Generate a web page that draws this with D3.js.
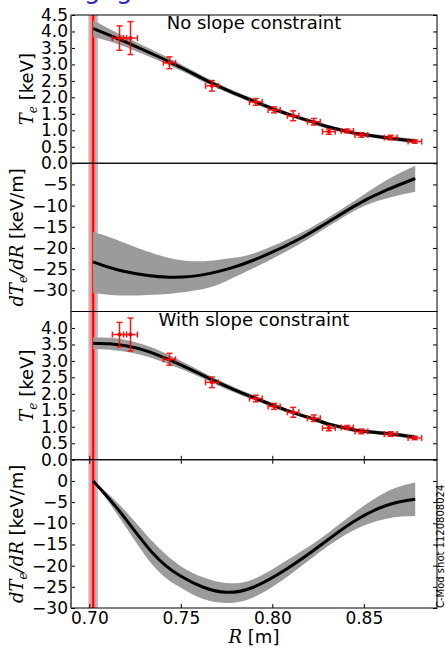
<!DOCTYPE html>
<html lang="en">
  <head>
    <meta charset="UTF-8" />
    <title>Te profile fits</title>
    <script src="https://cdn.jsdelivr.net/npm/d3@7"></script>
    <style>
      body { margin: 0; background: #fff; }
      text { font-family: "DejaVu Sans", sans-serif; }
      .math { font-family: "DejaVu Serif", serif; font-style: italic; }
    </style>
  </head>
  <body>
    <div id="chart"></div>
    <script>
      // measured Te points (same in both Te panels)
      const dataR = [0.7165, 0.7225, 0.7438, 0.767, 0.791, 0.801, 0.8114, 0.8227, 0.8309, 0.841, 0.8487, 0.8647, 0.8779];
      const dataTe = [3.80, 3.80, 3.05, 2.35, 1.86, 1.62, 1.44, 1.26, 0.96, 0.98, 0.86, 0.78, 0.66];
      const dataTeErr = [0.37, 0.5, 0.18, 0.16, 0.1, 0.09, 0.15, 0.1, 0.08, 0.06, 0.07, 0.07, 0.05];
      const dataRErr = [0.0039, 0.0038, 0.0033, 0.0035, 0.0035, 0.0033, 0.0031, 0.0035, 0.0035, 0.0033, 0.0035, 0.0035, 0.0037];

      // fit without slope constraint
      const fitR1 = [0.7021, 0.7165, 0.7300, 0.7438, 0.7550, 0.7670, 0.7790, 0.7910, 0.8010, 0.8114, 0.8227, 0.8309, 0.8410, 0.8487, 0.8647, 0.8781];
      const fitTe1 = [4.09, 3.76, 3.43, 3.08, 2.77, 2.43, 2.13, 1.86, 1.64, 1.44, 1.24, 1.10, 0.96, 0.88, 0.76, 0.67];
      const bandTe1 = [0.25, 0.16, 0.13, 0.11, 0.09, 0.08, 0.07, 0.07, 0.06, 0.06, 0.06, 0.06, 0.06, 0.06, 0.06, 0.07];

      const gradR1 = [0.7020, 0.7169, 0.7442, 0.7660, 0.7769, 0.7896, 0.8168, 0.8441, 0.8623, 0.8781];
      const grad1 = [-23.3, -25.3, -26.9, -26.0, -24.8, -22.9, -17.4, -10.3, -6.35, -3.6];
      const grad1Hi = [-16.2, -18.4, -22.4, -23.0, -22.4, -21.3, -16.2, -9.1, -4.0, -0.6];
      const grad1Lo = [-30.6, -31.2, -30.8, -29.3, -27.4, -24.8, -18.6, -11.4, -8.3, -6.75];

      // fit with slope constraint
      const fitR3 = [0.7021, 0.7110, 0.7206, 0.7320, 0.7438, 0.7550, 0.7670, 0.7790, 0.7910, 0.8010, 0.8114, 0.8227, 0.8309, 0.8410, 0.8487, 0.8647, 0.8781];
      const fitTe3 = [3.54, 3.52, 3.45, 3.29, 3.03, 2.75, 2.43, 2.13, 1.86, 1.64, 1.43, 1.23, 1.08, 0.95, 0.87, 0.78, 0.68];
      const bandTe3 = [0.18, 0.18, 0.18, 0.16, 0.14, 0.11, 0.09, 0.08, 0.07, 0.07, 0.06, 0.06, 0.06, 0.06, 0.06, 0.06, 0.07];

      const gradR3 = [0.7021, 0.7169, 0.735, 0.7496, 0.7623, 0.7750, 0.7896, 0.8078, 0.826, 0.8441, 0.8623, 0.8781];
      const grad3 = [0, -7.35, -17.2, -22.4, -25.1, -26.3, -25.1, -20.8, -15.3, -9.7, -5.8, -4.35];
      const grad3Hi = [0, -5.8, -14.5, -20.0, -22.75, -24.1, -23.2, -18.8, -13.7, -7.75, -2.6, -0.4];
      const grad3Lo = [0, -8.9, -20.0, -25.1, -27.9, -28.8, -27.5, -22.75, -16.8, -11.7, -8.9, -8.3];

      // separatrix position and its uncertainty
      const sepR = 0.7021, sepRedHalf = 0.0016, sepGrayHalf = 0.0026;

      const xTicks = [0.70, 0.75, 0.80, 0.85];
      const teTicks1 = [0, 0.5, 1, 1.5, 2, 2.5, 3, 3.5, 4, 4.5];
      const teTicks3 = [0, 0.5, 1, 1.5, 2, 2.5, 3, 3.5, 4];
      const gradTicks1 = [-30, -25, -20, -15, -10, -5];
      const gradTicks3 = [-30, -25, -20, -15, -10, -5, 0];

      const W = 445, H = 648;
      const margin = { left: 71, right: 8, top: 15 };
      const plotW = W - margin.left - margin.right;
      const panelH = 148.25;

      const svg = d3.select("#chart").append("svg").attr("width", W).attr("height", H);
      svg.append("rect").attr("width", W).attr("height", H).attr("fill", "#fff");

      // cut-off blue text above the figure
      svg.append("text").attr("x", 84).attr("y", -2).attr("font-size", 26).attr("fill", "#2b2bb5").text("g");
      svg.append("text").attr("x", 116).attr("y", -2).attr("font-size", 26).attr("fill", "#2b2bb5").text("g");

      const x = d3.scaleLinear().domain([0.69, 0.89]).range([0, plotW]);

      const panels = [
        { domain: [0, 4.5], ticks: teTicks1, fmt: d3.format(".1f"), kind: "te", R: fitR1, v: fitTe1, band: bandTe1, title: "No slope constraint", xt: [] , labX: 33 },
        { domain: [-35, 0], ticks: gradTicks1, fmt: d3.format("d"), kind: "grad", R: gradR1, v: grad1, hi: grad1Hi, lo: grad1Lo, xt: [], labX: 23 },
        { domain: [0, 4.5], ticks: teTicks3, fmt: d3.format(".1f"), kind: "te", R: fitR3, v: fitTe3, band: bandTe3, title: "With slope constraint", xt: ["bottom"], labX: 33 },
        { domain: [-30, 5], ticks: gradTicks3, fmt: d3.format("d"), kind: "grad", R: gradR3, v: grad3, hi: grad3Hi, lo: grad3Lo, xt: ["top", "bottom"], labX: 23 },
      ];

      panels.forEach((p, i) => {
        const top = margin.top + i * panelH;
        const y = d3.scaleLinear().domain(p.domain).range([panelH, 0]);
        const g = svg.append("g").attr("transform", `translate(${margin.left},${top})`);

        g.append("clipPath").attr("id", "clip" + i)
          .append("rect").attr("width", plotW).attr("height", panelH);
        const plot = g.append("g").attr("clip-path", `url(#clip${i})`);

        // separatrix bands
        plot.append("rect").attr("x", x(sepR - sepGrayHalf)).attr("width", x(sepR + sepGrayHalf) - x(sepR - sepGrayHalf))
          .attr("y", 0).attr("height", panelH).attr("fill", "#bdbdbd");
        plot.append("rect").attr("x", x(sepR - sepRedHalf)).attr("width", x(sepR + sepRedHalf) - x(sepR - sepRedHalf))
          .attr("y", 0).attr("height", panelH).attr("fill", "#ff8a8a");
        plot.append("line").attr("x1", x(sepR)).attr("x2", x(sepR)).attr("y1", 0).attr("y2", panelH)
          .attr("stroke", "#ff0000").attr("stroke-width", 2);

        // fit band and fit line
        const pts = p.R.map((r, k) => ({
          r,
          v: p.v[k],
          lo: p.kind === "te" ? p.v[k] - p.band[k] : p.lo[k],
          hi: p.kind === "te" ? p.v[k] + p.band[k] : p.hi[k],
        }));
        const curve = d3.curveNatural;
        plot.append("path").datum(pts)
          .attr("d", d3.area().x((d) => x(d.r)).y0((d) => y(d.lo)).y1((d) => y(d.hi)).curve(curve))
          .attr("fill", "#9b9b9b");
        plot.append("path").datum(pts)
          .attr("d", d3.line().x((d) => x(d.r)).y((d) => y(d.v)).curve(curve))
          .attr("fill", "none").attr("stroke", "#000").attr("stroke-width", 3);

        // data with error bars
        if (p.kind === "te") {
          const pd = dataR.map((r, k) => ({ r, t: dataTe[k], et: dataTeErr[k], er: dataRErr[k] }));
          const eb = plot.append("g").attr("stroke", "#ff0000").attr("stroke-width", 1.5).attr("opacity", 0.9);
          pd.forEach((d) => {
            const cx = x(d.r), cy = y(d.t);
            const y0 = y(d.t - d.et), y1 = y(d.t + d.et);
            const x0 = x(d.r - d.er), x1 = x(d.r + d.er);
            eb.append("line").attr("x1", cx).attr("x2", cx).attr("y1", y0).attr("y2", y1);
            eb.append("line").attr("x1", x0).attr("x2", x1).attr("y1", cy).attr("y2", cy);
            [y0, y1].forEach((yy) => eb.append("line").attr("x1", cx - 3).attr("x2", cx + 3).attr("y1", yy).attr("y2", yy));
            [x0, x1].forEach((xx) => eb.append("line").attr("x1", xx).attr("x2", xx).attr("y1", cy - 3).attr("y2", cy + 3));
          });
          plot.selectAll(".pt").data(pd).enter().append("circle")
            .attr("cx", (d) => x(d.r)).attr("cy", (d) => y(d.t)).attr("r", 2).attr("fill", "#ff0000");
        }

        // y axes, ticks pointing inward
        const yl = g.append("g").call(d3.axisLeft(y).tickValues(p.ticks).tickFormat(p.fmt).tickSize(-4).tickPadding(3));
        const yr = g.append("g").attr("transform", `translate(${plotW},0)`)
          .call(d3.axisRight(y).tickValues(p.ticks).tickFormat("").tickSize(-4));
        [yl, yr].forEach((a) => {
          a.select(".domain").remove();
          a.selectAll("text").attr("font-size", 17).attr("font-family", "DejaVu Sans").attr("fill", "#000");
        });

        p.xt.forEach((side) => {
          const ax = side === "top"
            ? g.append("g").call(d3.axisTop(x).tickValues(xTicks).tickFormat("").tickSize(-4))
            : g.append("g").attr("transform", `translate(0,${panelH})`)
                .call(d3.axisBottom(x).tickValues(xTicks).tickFormat(i === 3 ? d3.format(".2f") : "").tickSize(-4).tickPadding(4));
          ax.select(".domain").remove();
          ax.selectAll("text").attr("font-size", 17).attr("font-family", "DejaVu Sans").attr("fill", "#000");
        });

        // frame
        g.append("rect").attr("width", plotW).attr("height", panelH)
          .attr("fill", "none").attr("stroke", "#000").attr("stroke-width", 1);
        g.append("line").attr("x1", 0).attr("x2", 0).attr("y1", 0).attr("y2", panelH)
          .attr("stroke", "#666").attr("stroke-width", 2);

        if (p.title) {
          g.append("text").attr("x", plotW / 2).attr("y", 14).attr("text-anchor", "middle")
            .attr("font-size", 18).text(p.title);
        }

        // y label
        const lab = svg.append("text")
          .attr("transform", `translate(${p.labX},${top + panelH / 2}) rotate(-90)`)
          .attr("text-anchor", "middle").attr("font-size", 18);
        if (p.kind === "te") {
          lab.append("tspan").attr("class", "math").text("T");
          lab.append("tspan").attr("class", "math").attr("font-size", 12).attr("dy", 4).text("e");
          lab.append("tspan").attr("dy", -4).text(" [keV]");
        } else {
          lab.append("tspan").attr("class", "math").text("dT");
          lab.append("tspan").attr("class", "math").attr("font-size", 12).attr("dy", 4).text("e");
          lab.append("tspan").attr("class", "math").attr("dy", -4).text("/dR");
          lab.append("tspan").text(" [keV/m]");
        }
      });

      // x label
      const xl = svg.append("text").attr("x", margin.left + plotW / 2).attr("y", 643)
        .attr("text-anchor", "middle").attr("font-size", 18);
      xl.append("tspan").attr("class", "math").text("R");
      xl.append("tspan").text(" [m]");

      svg.append("text").attr("transform", "translate(444,608) rotate(-90)")
        .attr("font-size", 10).attr("fill", "#000").text("C-Mod shot 1120808024");
    </script>
  </body>
</html>
